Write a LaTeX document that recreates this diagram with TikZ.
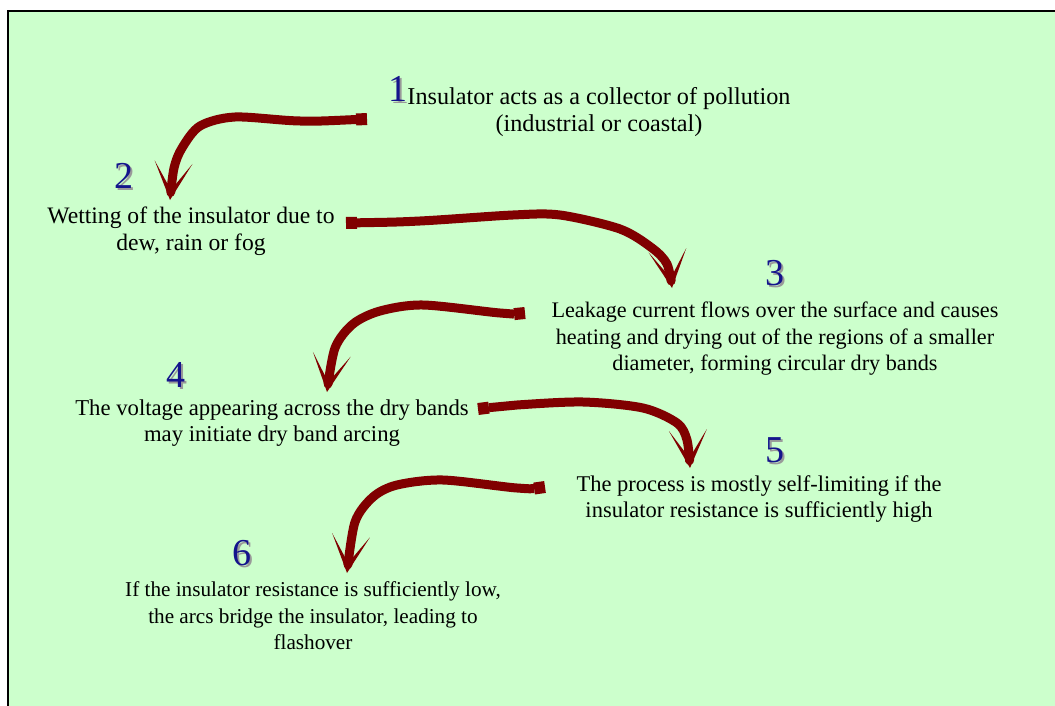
\documentclass[tikz,border=0pt]{standalone}
\usepackage{fontspec}
\setmainfont{Liberation Serif}
\usepackage{tikz}
\usetikzlibrary{arrows.meta}

\definecolor{bggreen}{RGB}{204,255,204}
\definecolor{arrowred}{RGB}{128,0,0}
\definecolor{numblue}{RGB}{20,20,140}

\tikzset{
  steptext/.style={align=center, font=\fontsize{#1}{26.5}\selectfont, inner sep=0pt},
  steptext/.default=22,
  stepnum/.style={font=\fontsize{38}{38}\selectfont, text=numblue, inner sep=0pt},
  numshadow/.style={stepnum, text=black!40},
  flow/.style={draw=arrowred, line width=9pt, line join=round,
    {Square[length=11pt,width=12pt,line width=0pt]}-{Stealth[length=38pt,width=38pt,inset=28pt,line width=0pt]}}
}

\begin{document}
\begin{tikzpicture}[x=1pt,y=-1pt]
\useasboundingbox (0,0) rectangle (1055,706);
\fill[bggreen] (8,11) rectangle (1055,706);
\draw[line width=2pt] (8,706) -- (8,11) -- (1055,11);

% step texts
\node[steptext=24.2] (t1) at (599,112) {Insulator acts as a collector of pollution\\(industrial or coastal)};
\node[steptext=23.6] (t2) at (191,231) {Wetting of the insulator due to\\dew, rain or fog};
\node[steptext=22.2] (t3) at (775,339) {Leakage current flows over the surface and causes\\heating and drying out of the regions of a smaller\\diameter, forming circular dry bands};
\node[steptext=22.7] (t4) at (272,423) {The voltage appearing across the dry bands\\may initiate dry band arcing};
\node[steptext=22.5] (t5) at (759,499) {The process is mostly self-limiting if the\\insulator resistance is sufficiently high};
\node[steptext=21.2] (t6) at (313,616) {If the insulator resistance is sufficiently low,\\the arcs bridge the insulator, leading to\\flashover};

% step numbers
\node[numshadow] (s1) at (400,91) {1};
\node[stepnum] (n1) at (398,89) {1};
\node[numshadow] (s2) at (126,178) {2};
\node[stepnum] (n2) at (124,176) {2};
\node[numshadow] (s3) at (777,275) {3};
\node[stepnum] (n3) at (775,273) {3};
\node[numshadow] (s4) at (178,377) {4};
\node[stepnum] (n4) at (176,375) {4};
\node[numshadow] (s5) at (777,452) {5};
\node[stepnum] (n5) at (775,450) {5};
\node[numshadow] (s6) at (244,555) {6};
\node[stepnum] (n6) at (242,553) {6};

% arrow ends
\coordinate (a1) at (367,119);
\coordinate (b1) at (170,200);
\coordinate (a2) at (346,223);
\coordinate (b2) at (672,288);
\coordinate (a3) at (525,313);
\coordinate (b3) at (327,392);
\coordinate (a4) at (478,409);
\coordinate (b4) at (690,468);
\coordinate (a5) at (545,487);
\coordinate (b5) at (347,573);

\draw[flow] plot[smooth] coordinates {(a1) (300,121) (235,117) (200,126) (182,148) (174,168) (b1)};
\draw[flow] plot[smooth] coordinates {(a2) (420,221) (513,215) (560,215) (620,229) (652,248) (667,264) (b2)};
\draw[flow] plot[smooth] coordinates {(a3) (500,313) (423,305) (380,311) (353,324) (335,348) (b3)};
\draw[flow] plot[smooth] coordinates {(a4) (517,405) (583,402) (643,408) (677,423) (687,440) (b4)};
\draw[flow] plot[smooth] coordinates {(a5) (517,488) (443,480) (397,485) (373,497) (355,522) (b5)};
\end{tikzpicture}
\end{document}
